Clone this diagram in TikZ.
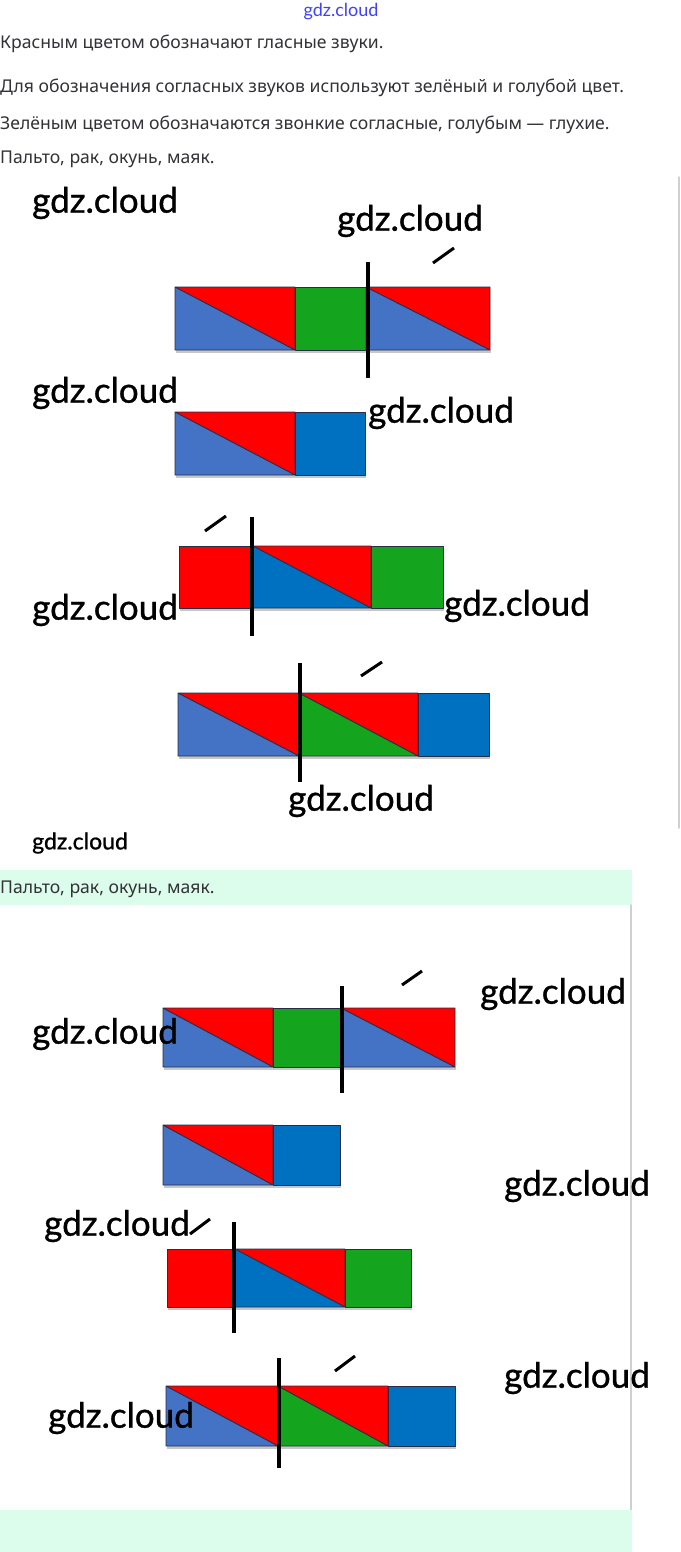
\documentclass[tikz,border=0pt]{standalone}
\usepackage{fontspec}
\setmainfont{Noto Sans}
\newfontfamily\wmfont[FakeBold=1]{Lato}
\newfontfamily\sitefont{Lato}
\usetikzlibrary{calc}
\definecolor{vowelred}{RGB}{255,0,0}
\definecolor{voicedgreen}{RGB}{20,164,30}
\definecolor{softblue}{RGB}{68,114,196}
\definecolor{deafblue}{RGB}{0,112,192}
\definecolor{cellborder}{RGB}{40,45,70}
\definecolor{notegreen}{RGB}{220,253,235}
\definecolor{bodytext}{RGB}{50,50,55}
\definecolor{frameline}{RGB}{208,208,208}
\tikzset{
  every picture/.append style={line cap=round,line join=round},
  scheme cell/.style={draw=cellborder,line width=0.9pt},
  scheme shadow/.style={fill=black!22},
  scheme divider/.style={line width=4.2pt,line cap=butt},
  scheme stress/.style={line width=3pt,line cap=butt},
  watermark/.style={font=\wmfont\fontsize{35}{37}\selectfont,anchor=west,inner sep=0pt},
  small watermark/.style={font=\wmfont\fontsize{23}{25}\selectfont,anchor=west,inner sep=0pt},
  body line/.style={font=\fontsize{17.6}{20}\selectfont,text=bodytext,anchor=base west,inner sep=0pt},
  site mark/.style={font=\sitefont\fontsize{18}{20}\selectfont,text=blue!75!white,inner sep=0pt}
}
% one sound cell: x1, x2, top, bottom, colour
\newcommand{\soundcell}[5]{%
  \fill[scheme shadow] (#1+1,#4) rectangle (#2+1,#4+3);
  \fill[#5] (#1,#3) rectangle (#2,#4);
  \draw[scheme cell] (#1,#3) rectangle (#2,#4);}
% merged syllable cell: lower-left consonant colour, upper-right vowel
\newcommand{\sylcell}[5]{%
  \fill[scheme shadow] (#1+1,#4) rectangle (#2+1,#4+3);
  \fill[#5] (#1,#3) -- (#2,#4) -- (#1,#4) -- cycle;
  \fill[vowelred] (#1,#3) -- (#2,#3) -- (#2,#4) -- cycle;
  \draw[scheme cell] (#1,#3) rectangle (#2,#4) (#1,#3) -- (#2,#4);}

\begin{document}
\begin{tikzpicture}[x=1pt,y=-1pt]
  \useasboundingbox (0,0) rectangle (680,1552);
  \fill[white] (0,0) rectangle (680,1552);

  % header
  \node[site mark] (site) at (341,12) {gdz.cloud};
  \node[body line] (rule1) at (0,49) {Красным цветом обозначают гласные звуки.};
  \node[body line] (rule2) at (0,93) {Для обозначения согласных звуков используют зелёный и голубой цвет.};
  \node[body line] (rule3) at (0,130) {Зелёным цветом обозначаются звонкие согласные, голубым — глухие.};
  \node[body line] (words1) at (0,164) {Пальто, рак, окунь, маяк.};
  \draw[frameline,line width=1.5pt] (679,177) -- (679,828);

  % first set of schemes
  \sylcell{175}{295}{287}{350}{softblue}
  \soundcell{295}{366}{287}{350}{voicedgreen}
  \sylcell{366}{490}{287}{350}{softblue}
  \draw[scheme divider] (368,262) -- (368,378);
  \draw[scheme stress] (433,263) -- (454,248);

  \sylcell{175}{295}{412}{475}{softblue}
  \soundcell{295}{365}{412}{475}{deafblue}

  \soundcell{179}{253}{546}{608}{vowelred}
  \sylcell{253}{371}{546}{608}{deafblue}
  \soundcell{371}{443}{546}{608}{voicedgreen}
  \draw[scheme divider] (252,517) -- (252,636);
  \draw[scheme stress] (205,531) -- (226,516);

  \sylcell{178}{299}{693}{756}{softblue}
  \sylcell{299}{418}{693}{756}{voicedgreen}
  \soundcell{418}{489}{693}{756}{deafblue}
  \draw[scheme divider] (300,663) -- (300,782);
  \draw[scheme stress] (361,676) -- (382,662);

  % answer block
  \fill[notegreen] (0,870) rectangle (632,905);
  \node[body line] (words2) at (0,893) {Пальто, рак, окунь, маяк.};
  \draw[frameline,line width=1.5pt] (631,905) -- (631,1510);
  \fill[notegreen] (0,1510) rectangle (632,1552);

  % second set of schemes
  \sylcell{163}{273}{1008}{1067}{softblue}
  \soundcell{273}{341}{1008}{1067}{voicedgreen}
  \sylcell{341}{455}{1008}{1067}{softblue}
  \draw[scheme divider] (342,986) -- (342,1093);
  \draw[scheme stress] (402,985) -- (422,971);

  \sylcell{163}{273}{1125}{1185}{softblue}
  \soundcell{273}{340}{1125}{1185}{deafblue}

  \soundcell{167}{235}{1249}{1307}{vowelred}
  \sylcell{235}{345}{1249}{1307}{deafblue}
  \soundcell{345}{411}{1249}{1307}{voicedgreen}
  \draw[scheme divider] (234,1222) -- (234,1333);
  \draw[scheme stress] (190,1234) -- (210,1219);

  \sylcell{166}{278}{1386}{1446}{softblue}
  \sylcell{278}{388}{1386}{1446}{voicedgreen}
  \soundcell{388}{455}{1386}{1446}{deafblue}
  \draw[scheme divider] (279,1358) -- (279,1468);
  \draw[scheme stress] (335,1371) -- (355,1356);

  % watermarks
  \foreach \wx/\wy [count=\i] in {32/203, 337/221, 32/393, 368/413, 32/610,
      444/606, 288/801, 480/994, 32/1034, 504/1186, 44/1226, 504/1378, 48/1418}
    \node[watermark] (wm\i) at (\wx,\wy) {gdz.cloud};
  \node[small watermark] (wmsmall) at (32,843) {gdz.cloud};
\end{tikzpicture}
\end{document}
